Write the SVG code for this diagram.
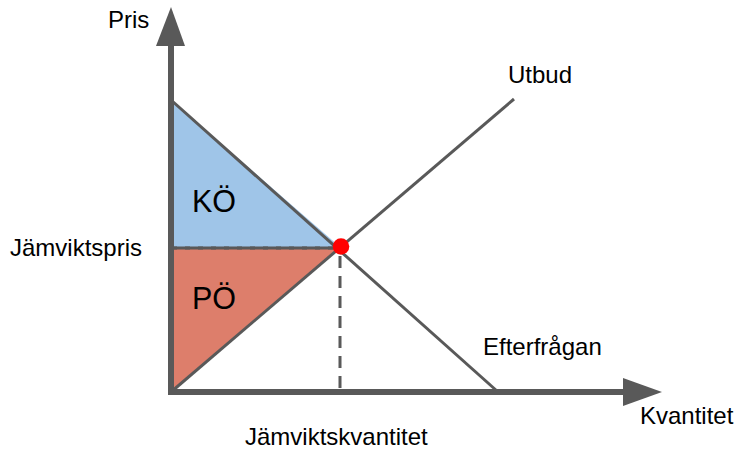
<svg xmlns="http://www.w3.org/2000/svg" width="737" height="450" viewBox="0 0 737 450">
<style>
.lbl{font-family:"Liberation Sans",Arial,sans-serif;font-size:24px;fill:#000}
.big{font-family:"Liberation Sans",Arial,sans-serif;font-size:30.5px;fill:#000}
.ln{stroke:#595959;stroke-width:3;fill:none}
.ax{stroke:#595959;stroke-width:6;fill:none}
.ah{fill:#595959}
</style>
<rect width="737" height="450" fill="#fff"/>
<g id="areas">
<polygon id="ko-area" points="171,100 340,247 171,247" fill="#9fc5e8"/>
<polygon id="po-area" points="171,248 340,248 171,392" fill="#dd7e6b"/>
</g>
<g id="connectors">
<line id="demand" class="ln" x1="171" y1="100" x2="497" y2="391"/>
<line id="supply" class="ln" x1="171" y1="392" x2="514" y2="99"/>
<line class="ln" x1="172" y1="248" x2="338" y2="248" stroke="#fff"/>
<line id="price-dash" class="ln" x1="172" y1="248" x2="338" y2="248" stroke-dasharray="5 8"/>
<line id="qty-dash" class="ln" x1="340" y1="256" x2="340" y2="388" stroke-dasharray="12 8"/>
<path id="axes" class="ax" d="M171,44 L171,392 L624,392"/>
<polygon id="y-arrow" class="ah" points="171,7 156,46 185,46"/>
<polygon id="x-arrow" class="ah" points="662,392 623,378 623,406"/>
</g>
<g id="eq-point"><circle cx="341" cy="246.5" r="8.3" fill="#ff0000"/></g>
<g id="label-ko"><text class="big" x="192" y="212">KÖ</text></g>
<g id="label-po"><text class="big" x="192" y="309">PÖ</text></g>
<g id="label-pris"><text class="lbl" x="108" y="28">Pris</text></g>
<g id="label-utbud"><text class="lbl" x="508" y="83">Utbud</text></g>
<g id="label-efterfragan"><text class="lbl" x="483" y="355">Efterfrågan</text></g>
<g id="label-kvantitet"><text class="lbl" x="640" y="424">Kvantitet</text></g>
<g id="label-jamviktspris"><text class="lbl" x="10" y="256">Jämviktspris</text></g>
<g id="label-jamviktskvantitet"><text class="lbl" x="245" y="445">Jämviktskvantitet</text></g>
</svg>
